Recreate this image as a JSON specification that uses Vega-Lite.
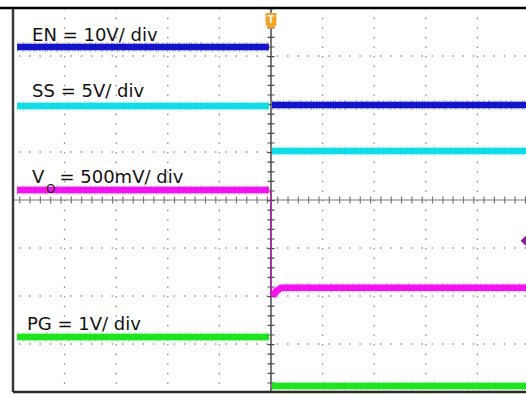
{
  "$schema": "https://vega.github.io/schema/vega-lite/v6.json",
  "width": 513,
  "height": 384,
  "autosize": {"type": "none"},
  "padding": {"left": 13, "top": 8, "right": 0, "bottom": 5},
  "background": "white",
  "config": {"view": {"stroke": null}},
  "datasets": {
    "traces": [
      {"s": "EN", "seg": "EN1", "x": 0.08, "y": 7.19},
      {"s": "EN", "seg": "EN1", "x": 4.96, "y": 7.19},
      {"s": "EN", "seg": "EN2", "x": 5.02, "y": 5.98},
      {"s": "EN", "seg": "EN2", "x": 9.942, "y": 5.98},
      {"s": "SS", "seg": "SS1", "x": 0.08, "y": 5.96},
      {"s": "SS", "seg": "SS1", "x": 4.96, "y": 5.96},
      {"s": "SS", "seg": "SS2", "x": 5.02, "y": 5.02},
      {"s": "SS", "seg": "SS2", "x": 9.942, "y": 5.02},
      {"s": "VO", "seg": "VO1", "x": 0.08, "y": 4.21},
      {"s": "VO", "seg": "VO1", "x": 4.96, "y": 4.21},
      {"s": "VO", "seg": "VO2", "x": 5.03, "y": 2.0},
      {"s": "VO", "seg": "VO2", "x": 5.1, "y": 2.1},
      {"s": "VO", "seg": "VO2", "x": 5.2, "y": 2.17},
      {"s": "VO", "seg": "VO2", "x": 9.942, "y": 2.17},
      {"s": "PG", "seg": "PG1", "x": 0.08, "y": 1.146},
      {"s": "PG", "seg": "PG1", "x": 4.96, "y": 1.146},
      {"s": "PG", "seg": "PG2", "x": 5.02, "y": 0.125},
      {"s": "PG", "seg": "PG2", "x": 9.942, "y": 0.125}
    ],
    "labels": [
      {"t": "EN = 10V/ div", "x": 0.37, "y": 7.3125},
      {"t": "SS = 5V/ div", "x": 0.37, "y": 6.146},
      {"t": "V", "x": 0.37, "y": 4.354},
      {"t": "= 500mV/ div", "x": 0.9, "y": 4.354},
      {"t": "PG = 1V/ div", "x": 0.27, "y": 1.29}
    ],
    "gridx": [{"g": 1}, {"g": 2}, {"g": 3}, {"g": 4}, {"g": 6}, {"g": 7}, {"g": 8}, {"g": 9}],
    "gridy": [{"g": 1}, {"g": 2}, {"g": 3}, {"g": 5}, {"g": 6}, {"g": 7}],
    "one": [{"k": 1}]
  },
  "layer": [
    {
      "data": {"name": "gridx"},
      "mark": {"type": "rule", "color": "#9a9a9a", "strokeWidth": 1.4, "strokeDash": [1.6, 8]},
      "encoding": {"x": {"field": "g", "type": "quantitative", "scale": {"domain": [0, 9.942], "nice": false, "zero": false}, "axis": null}}
    },
    {
      "data": {"name": "gridy"},
      "mark": {"type": "rule", "color": "#9a9a9a", "strokeWidth": 1.4, "strokeDash": [1.6, 8.72]},
      "encoding": {"y": {"field": "g", "type": "quantitative", "scale": {"domain": [0, 8], "nice": false, "zero": false}, "axis": null}}
    },
    {
      "data": {"name": "one"},
      "mark": {"type": "rule", "color": "#7a7a7a", "strokeWidth": 1.2},
      "encoding": {"y": {"datum": 4, "type": "quantitative", "axis": null}}
    },
    {
      "data": {"name": "one"},
      "mark": {"type": "rule", "color": "#7a7a7a", "strokeWidth": 7, "strokeDash": [1.2, 9.12]},
      "encoding": {"y": {"datum": 4, "type": "quantitative", "axis": null}}
    },
    {
      "data": {"name": "one"},
      "mark": {"type": "rule", "color": "#4a4a4a", "strokeWidth": 1.5},
      "encoding": {"x": {"datum": 5, "type": "quantitative", "axis": null}}
    },
    {
      "data": {"name": "one"},
      "mark": {"type": "rule", "color": "#4a4a4a", "strokeWidth": 7, "strokeDash": [1.2, 8.4]},
      "encoding": {"x": {"datum": 5, "type": "quantitative", "axis": null}}
    },
    {
      "data": {"name": "traces"},
      "mark": {"type": "line", "strokeWidth": 6.5, "strokeCap": "butt", "interpolate": "linear"},
      "encoding": {
        "x": {"field": "x", "type": "quantitative", "axis": null},
        "y": {"field": "y", "type": "quantitative", "axis": null},
        "detail": {"field": "seg"},
        "color": {"field": "s", "type": "nominal", "scale": {"domain": ["EN", "SS", "VO", "PG"], "range": ["#1414c8", "#12dde6", "#f312f0", "#1ee41e"]}, "legend": null},
        "order": {"field": "x", "type": "quantitative"}
      }
    },
    {
      "data": {"name": "traces"},
      "mark": {"type": "line", "strokeWidth": 9.5, "strokeCap": "butt", "opacity": 0.4, "strokeDash": [1, 1.5, 0.6, 2.2, 1.4, 1, 0.8, 2.6]},
      "encoding": {
        "x": {"field": "x", "type": "quantitative", "axis": null},
        "y": {"field": "y", "type": "quantitative", "axis": null},
        "detail": {"field": "seg"},
        "color": {"field": "s", "type": "nominal", "legend": null},
        "order": {"field": "x", "type": "quantitative"}
      }
    },
    {
      "data": {"name": "one"},
      "mark": {"type": "rule", "color": "#b020b0", "strokeWidth": 1.5},
      "encoding": {
        "x": {"datum": 5.0, "type": "quantitative", "axis": null},
        "y": {"datum": 4.21, "type": "quantitative", "axis": null},
        "y2": {"datum": 1.98}
      }
    },
    {
      "data": {"name": "one"},
      "mark": {"type": "rule", "color": "#3a3a3a", "strokeWidth": 2.5},
      "encoding": {"x": {"datum": 0, "type": "quantitative", "axis": null}}
    },
    {
      "data": {"name": "one"},
      "mark": {"type": "rule", "color": "#2a2a2a", "strokeWidth": 2.5},
      "encoding": {"y": {"datum": 0, "type": "quantitative", "axis": null}}
    },
    {
      "data": {"name": "one"},
      "mark": {"type": "rule", "color": "#000000", "strokeWidth": 2.5},
      "encoding": {
        "y": {"datum": 8, "type": "quantitative", "axis": null},
        "x": {"datum": -0.26, "type": "quantitative", "axis": null},
        "x2": {"datum": 9.942}
      }
    },
    {
      "data": {"name": "labels"},
      "mark": {"type": "text", "font": "DejaVu Sans", "fontSize": 18, "align": "left", "baseline": "alphabetic", "color": "#111111"},
      "encoding": {
        "x": {"field": "x", "type": "quantitative", "axis": null},
        "y": {"field": "y", "type": "quantitative", "axis": null},
        "text": {"field": "t"}
      }
    },
    {
      "data": {"values": [{"t": "O", "x": 0.64, "y": 4.146}]},
      "mark": {"type": "text", "font": "DejaVu Sans", "fontSize": 12, "align": "left", "baseline": "alphabetic", "color": "#111111"},
      "encoding": {
        "x": {"field": "x", "type": "quantitative", "axis": null},
        "y": {"field": "y", "type": "quantitative", "axis": null},
        "text": {"field": "t"}
      }
    },
    {
      "data": {"values": [{"x": 5, "y": 7.73}]},
      "mark": {"type": "point", "filled": true, "shape": "M-0.67,-1 L0.67,-1 L0.67,0.55 L0,1 L-0.67,0.55 Z", "size": 260, "color": "#f2a229", "opacity": 1},
      "encoding": {
        "x": {"field": "x", "type": "quantitative", "axis": null},
        "y": {"field": "y", "type": "quantitative", "axis": null}
      }
    },
    {
      "data": {"values": [{"x": 5, "y": 7.76, "t": "T"}]},
      "mark": {"type": "text", "font": "DejaVu Sans", "fontSize": 10, "fontWeight": "bold", "align": "center", "baseline": "middle", "color": "#fff4dc"},
      "encoding": {
        "x": {"field": "x", "type": "quantitative", "axis": null},
        "y": {"field": "y", "type": "quantitative", "axis": null},
        "text": {"field": "t"}
      }
    },
    {
      "data": {"values": [{"x": 9.93, "y": 3.15}]},
      "mark": {"type": "point", "filled": true, "shape": "diamond", "size": 90, "color": "#8a1a9a", "opacity": 1},
      "encoding": {
        "x": {"field": "x", "type": "quantitative", "axis": null},
        "y": {"field": "y", "type": "quantitative", "axis": null}
      }
    }
  ]
}
